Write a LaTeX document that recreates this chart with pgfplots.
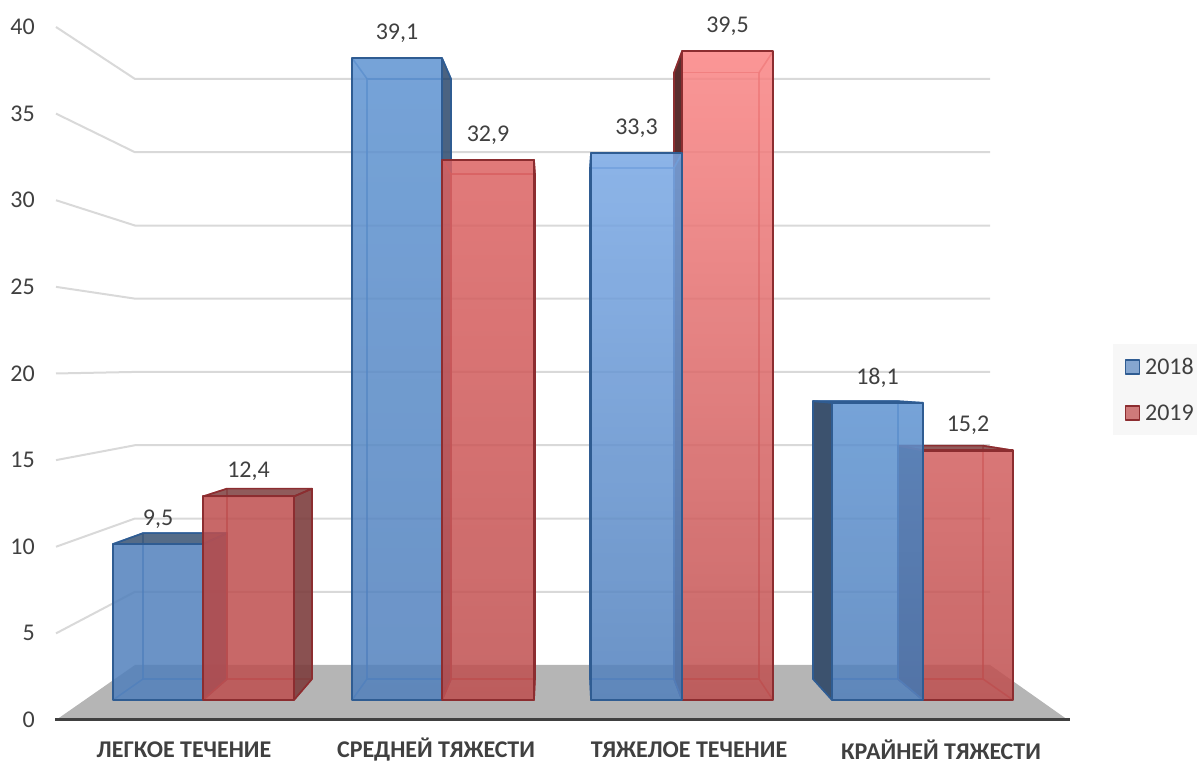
\documentclass[border=0pt]{standalone}
\usepackage{fontspec}
\setmainfont{Carlito}
\usepackage{pgfplots}
\pgfplotsset{compat=1.18}

\definecolor{txt}{RGB}{64,64,64}
\definecolor{gridc}{RGB}{217,217,217}
\definecolor{floorc}{RGB}{181,181,181}
\definecolor{blueedge}{RGB}{47,92,146}
\definecolor{blueinner}{RGB}{70,120,185}
\definecolor{bluedark}{RGB}{55,82,115}
\definecolor{blueside}{RGB}{60,82,110}
\definecolor{rededge}{RGB}{140,45,48}
\definecolor{redinner}{RGB}{185,70,72}
\definecolor{reddark}{RGB}{125,62,62}
\definecolor{redside}{RGB}{90,45,45}
\definecolor{blueA}{RGB}{81,128,188}
\definecolor{blueB}{RGB}{94,147,209}
\definecolor{blueD}{RGB}{120,167,228}
\definecolor{redA}{RGB}{190,78,78}
\definecolor{redB}{RGB}{220,98,98}
\definecolor{redC}{RGB}{210,95,95}
\definecolor{redD}{RGB}{250,132,132}

% One prism: front x1 x2, back x1 x2, value, top and bottom colour of the front, series name
\newcommand{\prism}[8]{%
  \pgfmathsetmacro{\bt}{1.279+0.9348*#5}%
  \def\bb{1.279}%
  % edges of the rear box
  \addplot[draw=#8inner, line width=1.6pt, draw opacity=.75] coordinates
    {(#3,\bb) (#3,\bt) (#4,\bt) (#4,\bb)} --cycle;
  \addplot[draw=#8inner, line width=1.6pt, draw opacity=.75] coordinates {(#1,0) (#3,\bb)};
  \addplot[draw=#8inner, line width=1.6pt, draw opacity=.75] coordinates {(#2,0) (#4,\bb)};
  \addplot[draw=#8inner, line width=1.6pt, draw opacity=.75] coordinates {(#1,#5) (#3,\bt)};
  \addplot[draw=#8inner, line width=1.6pt, draw opacity=.75] coordinates {(#2,#5) (#4,\bt)};
  % faces seen from outside
  \ifnum#3<#1\relax
    \addplot[draw=#8edge, line width=1.6pt, fill=#8side] coordinates
      {(#1,0) (#3,\bb) (#3,\bt) (#1,#5)} --cycle;
  \fi
  \ifnum#4>#2\relax
    \addplot[draw=#8edge, line width=1.6pt, fill=#8dark, fill opacity=.9] coordinates
      {(#2,0) (#4,\bb) (#4,\bt) (#2,#5)} --cycle;
  \fi
  \ifdim#5pt<19.6pt\relax
    \addplot[draw=#8edge, line width=1.6pt, fill=#8dark, fill opacity=.85] coordinates
      {(#1,#5) (#3,\bt) (#4,\bt) (#2,#5)} --cycle;
  \fi
  % front face
  \addplot[draw=#8edge, line width=2.2pt, top color=#6, bottom color=#7, fill opacity=.85]
    coordinates {(#1,0) (#1,#5) (#2,#5) (#2,0)} --cycle;
}

\begin{document}
\begin{tikzpicture}[x=1pt,y=1pt]
\path[use as bounding box] (0,0) rectangle (1197,763);

% Walls and floor, on the scale of the value axis
\begin{axis}[
  at={(0,0)}, anchor=south west,
  width=1197pt, height=763pt, scale only axis,
  xmin=0, xmax=1197, ymin=-2.482, ymax=41.558,
  clip=false, no markers,
  axis line style={draw=none},
  xtick=\empty,
  ytick={0,5,...,40},
  major tick length=0pt,
  /pgf/number format/assume math mode=true,
  yticklabel style={anchor=east, xshift=35pt, inner sep=0pt, font=\fontsize{24pt}{24pt}\selectfont, text=txt},
]
\addplot[draw=none, fill=floorc] coordinates {(56,0) (135,3.175) (990,3.175) (1068,0)} --cycle;
\addplot[draw=gridc, line width=2pt] coordinates {(56,5)  (135,7.40)  (990,7.40)};
\addplot[draw=gridc, line width=2pt] coordinates {(56,10) (135,11.63) (990,11.63)};
\addplot[draw=gridc, line width=2pt] coordinates {(56,15) (135,15.86) (990,15.86)};
\addplot[draw=gridc, line width=2pt] coordinates {(56,20) (135,20.09) (990,20.09)};
\addplot[draw=gridc, line width=2pt] coordinates {(56,25) (135,24.32) (990,24.32)};
\addplot[draw=gridc, line width=2pt] coordinates {(56,30) (135,28.54) (990,28.54)};
\addplot[draw=gridc, line width=2pt] coordinates {(56,35) (135,32.77) (990,32.77)};
\addplot[draw=gridc, line width=2pt] coordinates {(56,40) (135,37.00) (990,37.00)};
\addplot[draw=txt, line width=3pt] coordinates {(55,0) (1070,0)};
\end{axis}

% Prisms on the scale of their front faces
\begin{axis}[
  at={(0,0)}, anchor=south west,
  width=1197pt, height=763pt, scale only axis,
  xmin=0, xmax=1197, ymin=-3.837, ymax=42.631,
  clip=false, no markers,
  axis line style={draw=none},
  every axis plot/.append style={line join=round},
  ytick=\empty,
  xtick={184,436,689,941},
  xticklabels={ЛЕГКОЕ ТЕЧЕНИЕ, СРЕДНЕЙ ТЯЖЕСТИ, ТЯЖЕЛОЕ ТЕЧЕНИЕ, КРАЙНЕЙ ТЯЖЕСТИ},
  major tick length=0pt,
  xticklabel style={anchor=center, yshift=13pt, inner sep=0pt, text=txt, font=\fontsize{24pt}{24pt}\selectfont\bfseries},
  valuelabel/.style={draw=none, nodes near coords, point meta=y,
    every node near coord/.append style={anchor=center, yshift=25pt, text=txt, font=\fontsize{24pt}{24pt}\selectfont,
      /pgf/number format/.cd, fixed, fixed zerofill, precision=1, use comma, assume math mode=true}},
  legend style={at={(1,0.549)}, anchor=north east, fill=black!3, draw=none,
    font=\fontsize{24pt}{24pt}\selectfont, text=txt,
    row sep=25pt, inner xsep=1pt, inner ysep=11.5pt},
  legend cell align=left,
  legend image code/.code={\path (-11pt,0pt) (17pt,0pt); \draw[#1] (0pt,-7pt) rectangle (14pt,7pt);},
]
\addlegendimage{draw=blueedge, line width=1.6pt, fill=blueA!70!white}
\addlegendentry{2018}
\addlegendimage{draw=rededge, line width=1.6pt, fill=redA!75!white}
\addlegendentry{2019}

\prism{113}{203}{143}{227}{9.5}{blueA}{blueA}{blue}
\prism{203}{294}{227}{312}{12.4}{redA}{redA}{red}
\prism{352}{442}{367}{451}{39.1}{blueB}{blueA}{blue}
\prism{442}{534}{451}{535}{32.9}{redB}{redA}{red}
\prism{682}{773}{674}{759}{39.5}{redD}{redA}{red}
\prism{591}{682}{590}{674}{33.3}{blueD}{blueA}{blue}
\prism{923}{1013}{898}{983}{15.2}{redC}{redA}{red}
\prism{832}{923}{813}{898}{18.1}{blueB}{blueA}{blue}

% Value labels above the front faces
\addplot[valuelabel] coordinates {(158,9.5) (397,39.1) (636.5,33.3) (877.5,18.1)};
\addplot[valuelabel] coordinates {(248.5,12.4) (488,32.9) (727.5,39.5) (968,15.2)};
\end{axis}
\end{tikzpicture}
\end{document}
